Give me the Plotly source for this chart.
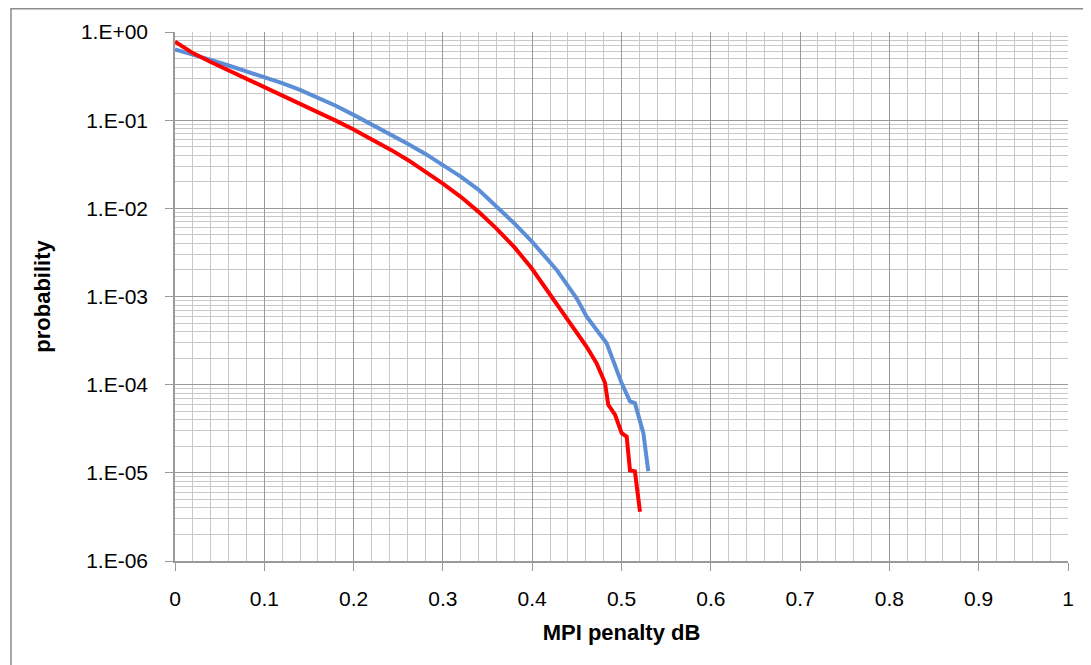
import plotly.graph_objects as go

# Data
blue_x = [0.0, 0.02, 0.04, 0.06, 0.08, 0.10, 0.12, 0.14, 0.16, 0.18, 0.20, 0.22, 0.24, 0.26, 0.28,
          0.30, 0.32, 0.34, 0.36, 0.38, 0.40, 0.4274, 0.4498, 0.461, 0.4834, 0.500, 0.5095, 0.515,
          0.5245, 0.530]
blue_y = [0.635, 0.558, 0.484, 0.417, 0.359, 0.309, 0.263, 0.221, 0.182, 0.146, 0.1148, 0.0902,
          0.0700, 0.0543, 0.0417, 0.0313, 0.0229, 0.0162, 0.0106, 0.00676, 0.00417, 0.0020,
          9.55e-4, 5.89e-4, 2.95e-4, 1.05e-4, 6.46e-5, 6.17e-5, 2.82e-5, 1.04e-5]

red_x = [0.0, 0.0205, 0.04, 0.06, 0.08, 0.10, 0.12, 0.14, 0.16, 0.18, 0.20, 0.2196, 0.2424, 0.262,
         0.282, 0.30, 0.32, 0.34, 0.36, 0.38, 0.3994, 0.4256, 0.4423, 0.461, 0.4722, 0.4815, 0.4852,
         0.4927, 0.5002, 0.5058, 0.5095, 0.515, 0.5207]
red_y = [0.776, 0.573, 0.457, 0.367, 0.2985, 0.2427, 0.195, 0.1567, 0.1245, 0.0989, 0.0785, 0.0617,
         0.0457, 0.0347, 0.0257, 0.0191, 0.0135, 0.00912, 0.00589, 0.00363, 0.00209, 8.9e-4,
         5.0e-4, 2.69e-4, 1.74e-4, 1.05e-4, 5.9e-5, 4.57e-5, 2.82e-5, 2.57e-5, 1.07e-5, 1.04e-5,
         3.63e-6]

y_tickvals = [1, 1e-1, 1e-2, 1e-3, 1e-4, 1e-5, 1e-6]
y_ticktext = ["1.E+00", "1.E-01", "1.E-02", "1.E-03", "1.E-04", "1.E-05", "1.E-06"]
x_tickvals = [0, 0.1, 0.2, 0.3, 0.4, 0.5, 0.6, 0.7, 0.8, 0.9, 1.0]
x_ticktext = ["0", "0.1", "0.2", "0.3", "0.4", "0.5", "0.6", "0.7", "0.8", "0.9", "1"]

FONT = "Liberation Sans"

fig = go.Figure()
fig.add_trace(go.Scatter(x=blue_x, y=blue_y, mode="lines",
                         line=dict(color="#5B8ED6", width=4), showlegend=False))
fig.add_trace(go.Scatter(x=red_x, y=red_y, mode="lines",
                         line=dict(color="#FF0000", width=4), showlegend=False))

W, H = 1091, 665
OFF = 8  # page body margin
L, R, T, B = 175 - OFF, 1068 - OFF, 32 - OFF, 561 - OFF  # plot area in figure pixels

fig.update_layout(
    width=W, height=H,
    margin=dict(l=L, r=W - R, t=T, b=H - B),
    paper_bgcolor="white", plot_bgcolor="white",
    font=dict(family=FONT, color="#000000", size=21),
    xaxis=dict(
        range=[0, 1], tickvals=x_tickvals, ticktext=x_ticktext,
        showgrid=True, gridcolor="#999999", gridwidth=1.2,
        minor=dict(dtick=0.02, showgrid=True, gridcolor="#c8c8c8", gridwidth=1.2),
        showline=True, linecolor="#9a9a9a", linewidth=1.5,
        ticks="outside", ticklen=8, tickcolor="#9a9a9a",
        ticklabelstandoff=10,
        zeroline=False,
        title=dict(text="<b>MPI penalty dB</b>", font=dict(size=22), standoff=16),
    ),
    yaxis=dict(
        type="log", range=[-6, 0], tickvals=y_tickvals, ticktext=y_ticktext,
        showgrid=True, gridcolor="#999999", gridwidth=1.2,
        minor=dict(dtick="D1", showgrid=True, gridcolor="#c8c8c8", gridwidth=1.2),
        showline=True, linecolor="#9a9a9a", linewidth=1.5,
        ticks="outside", ticklen=8, tickcolor="#9a9a9a",
        ticklabelstandoff=13,
        zeroline=False,
        title=dict(text="<b>probability</b>", font=dict(size=22), standoff=24),
    ),
)

# outer chart-area border (cropped at right and bottom)
pw, ph = R - L, B - T
def px_x(p):
    return (p - OFF - L) / pw
def px_y(p):
    return (B - (p - OFF)) / ph
fig.add_shape(type="rect", xref="paper", yref="paper",
              x0=px_x(11), x1=px_x(1120), y0=px_y(700), y1=px_y(8.8),
              line=dict(color="#8c8c8c", width=1.5), fillcolor="rgba(0,0,0,0)", layer="below")

fig.write_html("out.html")
